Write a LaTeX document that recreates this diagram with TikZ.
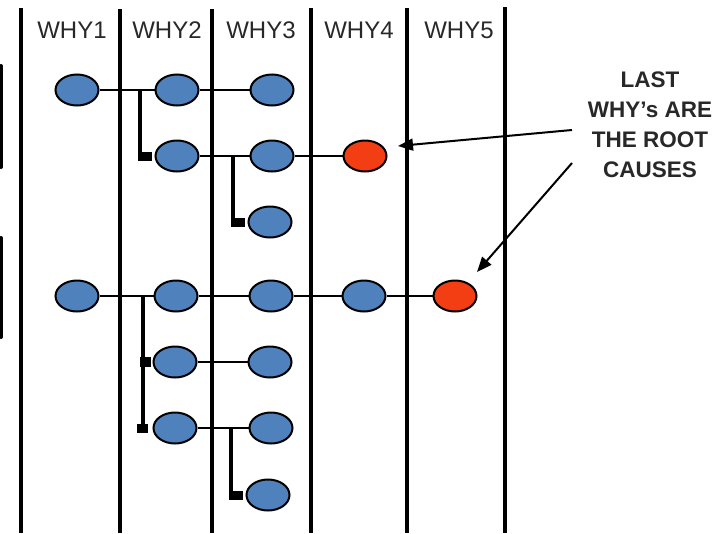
\documentclass[tikz,border=0pt]{standalone}
\usepackage{fontspec}
\setmainfont{Liberation Sans}
\usetikzlibrary{shapes.geometric,arrows.meta}
\definecolor{nodeblue}{RGB}{79,129,189}
\definecolor{rootred}{RGB}{242,62,18}
\definecolor{headgray}{RGB}{40,40,40}
\tikzset{
  why/.style={ellipse,draw=black,line width=2pt,fill=nodeblue,minimum width=43pt,minimum height=31pt,inner sep=0pt},
  root/.style={why,fill=rootred},
  lane/.style={line width=4pt},
  link/.style={line width=2pt},
  bracket/.style={line width=4.5pt},
  stub/.style={fill=black},
  head/.style={font=\fontsize{24}{28}\selectfont,text=headgray},
  note/.style={font=\bfseries\fontsize{22.5}{30}\selectfont,align=center,text=headgray},
  pointer/.style={line width=2pt,-{Triangle[length=15pt,width=12pt]}}
}
\begin{document}
\begin{tikzpicture}[x=1pt,y=-1pt]
\useasboundingbox (0,0) rectangle (719,533);
% lanes
\foreach \x/\t in {21/8,120/9,212/9,311/8,407/8,505/7}{
  \draw[lane] (\x,\t) -- (\x,533);
}
% cut-off boxes at left
\draw[line width=4pt,line cap=round] (1,66) -- (1,167);
\draw[line width=4pt,line cap=round] (1,238) -- (1,337);
% headings
\node[head] (h1) at (72,30) {WHY1};
\node[head] (h2) at (167,30) {WHY2};
\node[head] (h3) at (261,30) {WHY3};
\node[head] (h4) at (359,30) {WHY4};
\node[head] (h5) at (459,30) {WHY5};
% upper tree
\node[why] (a1) at (77,90) {};
\node[why] (a2) at (177,90) {};
\node[why] (a3) at (272,90) {};
\node[why] (b2) at (177,156) {};
\node[why] (b3) at (272,156) {};
\node[root] (b4) at (365,156) {};
\node[why] (c3) at (270,222) {};
% lower tree
\node[why] (d1) at (77,296) {};
\node[why] (d2) at (176,296) {};
\node[why] (d3) at (271,296) {};
\node[why] (d4) at (364,296) {};
\node[root] (d5) at (455,296) {};
\node[why] (e2) at (175,362) {};
\node[why] (e3) at (270,362) {};
\node[why] (f2) at (175,428) {};
\node[why] (f3) at (271,428) {};
\node[why] (g3) at (268,495) {};
% links
\draw[link] (a1) -- (a2);
\draw[link] (a2) -- (a3);
\draw[link] (b2) -- (b3);
\draw[link] (b3) -- (b4);
\draw[link] (d1) -- (d2);
\draw[link] (d2) -- (d3);
\draw[link] (d3) -- (d4);
\draw[link] (d4) -- (d5);
\draw[link] (e2) -- (e3);
\draw[link] (f2) -- (f3);
% brackets
\coordinate (ka) at (140,90);
\coordinate (kb) at (233,156);
\coordinate (kd) at (143,296);
\coordinate (kf) at (231,428);
\draw[bracket] (ka) -- (ka |- b2);
\fill[stub] ([xshift=-2.5pt,yshift=-4.5pt]ka |- b2) rectangle ([xshift=-3pt,yshift=4.5pt]b2.west);
\draw[bracket] (kb) -- (kb |- c3);
\fill[stub] ([xshift=-2.5pt,yshift=-4.5pt]kb |- c3) rectangle ([xshift=-3pt,yshift=4.5pt]c3.west);
\draw[bracket] (kd) -- ([yshift=2pt]kd |- f2);
\fill[stub] ([xshift=-3pt,yshift=-5pt]kd |- e2) rectangle ([xshift=-2pt,yshift=5pt]e2.west);
\fill[stub] ([xshift=-6pt,yshift=-4.5pt]kd |- f2) rectangle ([xshift=-5pt,yshift=4.5pt]f2.west);
\draw[bracket] (kf) -- (kf |- g3);
\fill[stub] ([xshift=-2.5pt,yshift=-4.5pt]kf |- g3) rectangle ([xshift=-3pt,yshift=4.5pt]g3.west);
% note and pointers
\node[note] (note) at (650,125) {LAST\\WHY’s ARE\\THE ROOT\\CAUSES};
\coordinate (s1) at (572,130);
\coordinate (s2) at (572,163);
\coordinate (t1) at (398,146);
\coordinate (t2) at (477,272);
\draw[pointer] (s1) -- (t1);
\draw[pointer] (s2) -- (t2);
\end{tikzpicture}
\end{document}
